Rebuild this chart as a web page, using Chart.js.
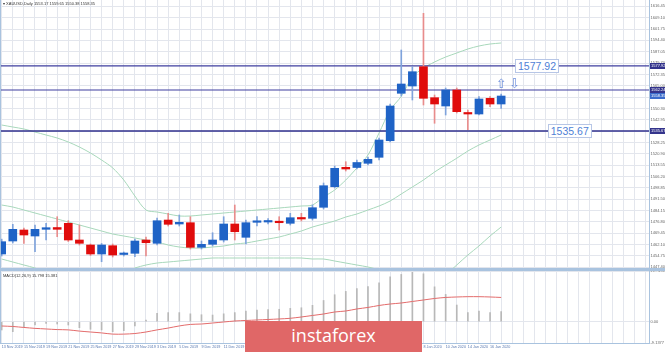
<!DOCTYPE html>
<html><head><meta charset="utf-8">
<script src="https://cdn.jsdelivr.net/npm/chart.js@4.4.1/dist/chart.umd.min.js"></script>
<style>
html,body{margin:0;padding:0;background:#fff;}
body{width:665px;height:352px;position:relative;overflow:hidden;font-family:"Liberation Sans",Arial,sans-serif;}
canvas{position:absolute;left:0;}
#main{top:0;}
#sub{top:271px;}
.band{position:absolute;background:#a9c3df;}
.lvl{position:absolute;background:#fff;border:1px solid #b7c6e6;color:#4f7fd6;font-size:10.5px;line-height:12px;padding:0 2px;white-space:nowrap;}
.arrow{position:absolute;color:#6f90dc;font-family:"DejaVu Sans";font-size:13px;line-height:13px;transform:translate(-50%,-50%);}
.tiny{position:absolute;font-size:4px;line-height:5px;color:#333;white-space:nowrap;}
#logo{position:absolute;left:245px;top:321px;width:177px;height:31px;background:#e06767;color:#fff;font-family:"Open Sans",sans-serif;font-size:18px;line-height:24px;padding-top:2px;box-sizing:border-box;text-align:center;}
</style></head><body>
<canvas id="main" width="665" height="268"></canvas>
<canvas id="sub" width="665" height="81"></canvas>
<div class="band" style="left:0;top:268px;width:665px;height:3px"></div>
<div class="band" style="left:0;top:0;width:1px;height:343px"></div>
<div id="title" class="tiny" style="left:3px;top:1px">▾ XAUUSD,Daily  1553.17 1559.65 1550.38 1558.35</div>
<div id="macdlbl" class="tiny" style="left:3px;top:273px">MACD(12,26,9) 15.798 15.381</div>
<div id="logo">instaforex</div>
<script>
// ---------------- data ----------------
const dates = ["13 Nov 2019","14 Nov 2019","15 Nov 2019","18 Nov 2019","19 Nov 2019","20 Nov 2019","21 Nov 2019","22 Nov 2019","25 Nov 2019","26 Nov 2019","27 Nov 2019","28 Nov 2019","29 Nov 2019","2 Dec 2019","3 Dec 2019","4 Dec 2019","5 Dec 2019","6 Dec 2019","9 Dec 2019","10 Dec 2019","11 Dec 2019","12 Dec 2019","13 Dec 2019","16 Dec 2019","17 Dec 2019","18 Dec 2019","19 Dec 2019","20 Dec 2019","23 Dec 2019","24 Dec 2019","26 Dec 2019","27 Dec 2019","30 Dec 2019","31 Dec 2019","2 Jan 2020","3 Jan 2020","6 Jan 2020","7 Jan 2020","8 Jan 2020","9 Jan 2020","10 Jan 2020","13 Jan 2020","14 Jan 2020","15 Jan 2020","16 Jan 2020","17 Jan 2020"];
const open  = [1455.97,1464.39,1471.52,1467.63,1471.97,1473.12,1475.86,1465.04,1461.80,1455.97,1461.35,1455.65,1456.42,1465.04,1462.90,1477.99,1475.41,1476.25,1460.31,1462.25,1465.04,1475.41,1466.79,1476.51,1476.70,1476.90,1475.86,1479.49,1479.10,1486.23,1499.58,1512.15,1512.02,1514.74,1518.63,1529.38,1560.10,1564.83,1577.34,1557.25,1551.87,1562.24,1547.53,1546.69,1556.86,1553.17];
const high  = [1465.60,1475.21,1472.80,1474.76,1475.86,1480.14,1477.54,1474.76,1462.45,1462.77,1462.45,1457.26,1465.69,1466.98,1479.30,1482.34,1481.24,1480.14,1464.39,1469.77,1480.14,1487.72,1477.99,1480.14,1478.97,1480.14,1482.34,1482.34,1487.72,1501.97,1512.99,1515.78,1516.88,1518.82,1531.13,1553.17,1588.16,1577.34,1611.94,1558.99,1563.53,1563.53,1549.28,1557.90,1557.90,1559.65];
const low   = [1454.67,1463.10,1462.90,1457.46,1465.04,1467.18,1464.07,1461.80,1455.00,1450.98,1454.02,1454.67,1454.22,1454.67,1461.80,1474.11,1474.11,1459.21,1459.21,1461.15,1463.74,1465.04,1462.45,1474.11,1475.41,1471.52,1474.76,1477.35,1477.99,1485.13,1498.74,1509.75,1511.05,1513.64,1516.88,1528.54,1558.35,1555.76,1552.52,1540.68,1546.04,1547.33,1536.57,1546.04,1551.42,1550.38];
const close = [1463.94,1471.97,1468.28,1471.97,1473.01,1471.97,1465.04,1462.90,1455.97,1461.80,1455.32,1456.29,1464.39,1463.29,1477.54,1475.21,1476.51,1460.31,1462.25,1465.04,1475.41,1470.42,1476.25,1477.35,1477.35,1476.25,1479.49,1478.65,1485.97,1500.22,1511.50,1511.05,1515.26,1517.33,1529.84,1551.87,1566.13,1574.10,1556.86,1553.17,1562.24,1548.18,1546.69,1556.41,1553.17,1558.35];
const bbUpper  = [1539.56,1538.26,1536.97,1535.02,1533.08,1531.13,1528.54,1525.30,1521.42,1516.88,1511.74,1503.92,1493.55,1484.48,1483.18,1481.89,1480.59,1480.59,1481.24,1481.89,1482.53,1483.18,1483.83,1484.48,1485.13,1485.77,1486.42,1487.07,1487.72,1492.90,1497.44,1503.92,1511.70,1520.12,1534.37,1549.28,1558.12,1570.66,1576.49,1580.38,1583.62,1586.21,1588.81,1590.75,1592.04,1592.69];
const bbMiddle = [1487.72,1486.42,1484.48,1482.53,1480.59,1478.65,1476.70,1474.76,1472.81,1470.87,1468.93,1467.63,1466.33,1465.04,1463.74,1461.80,1460.50,1459.86,1459.86,1460.50,1461.15,1462.45,1463.10,1464.39,1465.69,1466.98,1468.93,1470.87,1473.46,1475.41,1477.35,1479.94,1481.89,1484.48,1487.07,1490.31,1494.85,1499.38,1503.92,1509.10,1513.64,1518.02,1522.71,1526.60,1529.84,1533.08];
const bbLower  = [1452.73,1450.78,1448.84,1446.90,1444.30,1442.36,1441.06,1440.41,1440.41,1441.06,1442.36,1444.30,1446.90,1448.84,1450.13,1450.78,1451.43,1452.08,1452.73,1453.37,1453.37,1453.37,1453.37,1453.37,1453.37,1453.37,1453.37,1453.37,1452.73,1452.73,1451.43,1450.13,1448.84,1447.54,1445.60,1442.36,1438.47,1435.23,1433.94,1435.88,1442.36,1448.84,1455.32,1461.15,1467.63,1473.46];
const macdMain   = [-3.56,-4.29,-2.15,-1.42,-0.69,-0.99,-1.42,-2.57,-3.26,-3.56,-4.29,-3.86,-1.85,0.65,3.64,3.90,3.90,3.38,2.99,2.86,3.38,3.90,4.55,4.94,5.20,5.33,5.72,5.98,7.02,9.10,11.57,13.00,14.17,15.08,16.64,19.24,20.28,21.19,20.54,14.95,11.70,7.15,3.90,4.55,3.90,4.29];
const macdSignal = [-1.85,-2.05,-2.47,-2.86,-3.12,-3.38,-3.51,-4.03,-4.42,-4.81,-5.33,-5.33,-5.07,-4.42,-3.51,-2.73,-1.82,-1.17,-0.99,-0.56,-0.13,0.30,0.52,0.73,0.95,1.17,1.46,2.02,2.67,3.30,4.16,4.59,5.46,6.11,6.96,7.59,8.02,8.67,9.31,9.96,10.40,10.60,10.73,10.73,10.60,10.40];
const priceTicks = [1447.40,1454.75,1462.10,1469.45,1476.80,1484.15,1491.50,1498.85,1506.20,1513.55,1520.90,1528.25,1535.60,1542.95,1550.30,1557.65,1565.00,1572.35,1579.70,1587.05,1594.40,1601.75,1609.10,1616.45];
const macdTicks = [-9.1377, 0, 21.7451];
const resistanceLevel = 1577.92;
const pivotLevel = 1562.24;
const supportLevel = 1535.67;
const bidPrice = 1558.35;

// ---------------- config ----------------
const X_MIN = -0.153, X_MAX = 58.32;
const Y_MIN = 1446.90, Y_MAX = 1620.56;
const gridColor = '#e3e6ed';
const axisColor = '#a9c3df';
const bbColor = '#a8d8bb';
const lineColor = '#3f3f9f';
const N = close.length;
const idx = [...Array(N).keys()];
const isUp = idx.map(i => close[i] >= open[i]);
Chart.defaults.font.family = '"Liberation Sans", Arial, sans-serif';

const hline = v => [{x: X_MIN, y: v}, {x: X_MAX, y: v}];
const intTicks = s => { const t = []; for (let i = 0; i <= Math.floor(X_MAX); i++) t.push({value: i}); s.ticks = t; };

const axisBoxes = {
  id: 'axisBoxes',
  afterDraw(c) {
    const y = c.scales.y, ctx = c.ctx, r = c.chartArea.right;
    ctx.save();
    [[resistanceLevel, '#34348c'], [pivotLevel, '#34348c'], [bidPrice, '#3b6ccc'], [supportLevel, '#34348c']].forEach(([v, col]) => {
      const py = y.getPixelForValue(v);
      ctx.fillStyle = col;
      ctx.fillRect(r + 1, Math.round(py) - 3, 16, 6);
      ctx.fillStyle = '#fff';
      ctx.font = '4px "Liberation Sans"';
      ctx.textBaseline = 'middle';
      ctx.textAlign = 'left';
      ctx.fillText(v.toFixed(2), r + 2, py);
    });
    ctx.restore();
  }
};

const main = new Chart(document.getElementById('main'), {
  type: 'bar',
  data: { datasets: [
    {type:'line', data: idx.map(i => ({x:i, y:bbUpper[i]})), borderColor: bbColor, borderWidth: 1, pointRadius: 0, tension: 0.3, order: 6},
    {type:'line', data: idx.map(i => ({x:i, y:bbMiddle[i]})), borderColor: bbColor, borderWidth: 1, pointRadius: 0, tension: 0.3, order: 6},
    {type:'line', data: idx.map(i => ({x:i, y:bbLower[i]})), borderColor: bbColor, borderWidth: 1, pointRadius: 0, tension: 0.3, order: 6},
    {type:'line', data: hline(resistanceLevel), borderColor: lineColor, borderWidth: 1.2, pointRadius: 0, order: 5},
    {type:'line', data: hline(pivotLevel), borderColor: lineColor, borderWidth: 1.2, pointRadius: 0, order: 5},
    {type:'line', data: hline(supportLevel), borderColor: '#2f2f8c', borderWidth: 1.3, pointRadius: 0, order: 5},
    {type:'bar', data: idx.map(i => ({x:i, y:[low[i], high[i]]})), backgroundColor: idx.map(i => isUp[i] ? '#7fa3dc' : '#e88c8c'), barThickness: 1, grouped: false, order: 2},
    {type:'bar', data: idx.map(i => ({x:i, y:[open[i], close[i]]})), backgroundColor: idx.map(i => isUp[i] ? '#1f63c6' : '#e00c0c'), barThickness: 8, grouped: false, minBarLength: 1.5, order: 1}
  ]},
  options: {
    responsive: false, animation: false, events: [],
    layout: {padding: 0},
    plugins: {legend: {display: false}, tooltip: {enabled: false}},
    scales: {
      x: {type: 'linear', min: X_MIN, max: X_MAX, offset: false,
          grid: {color: gridColor, offset: false, drawTicks: false},
          border: {display: false}, ticks: {display: false},
          afterBuildTicks: intTicks,
          afterFit: s => { s.height = 0; s.paddingLeft = 0; s.paddingRight = 0; }},
      y: {position: 'right', min: Y_MIN, max: Y_MAX,
          grid: {color: gridColor, drawTicks: false},
          border: {display: true, color: axisColor, width: 1},
          afterBuildTicks: s => { s.ticks = priceTicks.map(v => ({value: v})); },
          ticks: {font: {size: 4}, color: '#666', padding: 1.5, callback: v => Number(v).toFixed(2)},
          afterFit: s => { s.width = 16; s.paddingTop = 0; s.paddingBottom = 0; }}
    }
  },
  plugins: [axisBoxes]
});

const sub = new Chart(document.getElementById('sub'), {
  type: 'bar',
  data: { datasets: [
    {type:'line', data: idx.map(i => ({x:i, y:macdSignal[i]})), borderColor: '#e36b6b', borderWidth: 1, pointRadius: 0, tension: 0.3, order: 1},
    {type:'bar', data: idx.map(i => ({x:i, y:macdMain[i]})), backgroundColor: '#b8b8b8', barThickness: 1, grouped: false, order: 2}
  ]},
  options: {
    responsive: false, animation: false, events: [],
    layout: {padding: 0},
    plugins: {legend: {display: false}, tooltip: {enabled: false}},
    scales: {
      x: {type: 'linear', min: X_MIN, max: X_MAX, offset: false,
          grid: {color: gridColor, offset: false, drawTicks: false},
          border: {display: true, color: axisColor, width: 1},
          afterBuildTicks: intTicks,
          ticks: {autoSkip: false, maxRotation: 0, align: 'start', font: {size: 3.7}, color: '#5878b0', padding: 2,
                  callback: v => (v % 2 === 0 && v < dates.length) ? dates[v] : ''},
          afterFit: s => { s.height = 9; s.paddingLeft = 0; s.paddingRight = 0; }},
      y: {position: 'right', min: macdTicks[0], max: macdTicks[2],
          grid: {color: gridColor, drawTicks: false},
          border: {display: true, color: axisColor, width: 1},
          afterBuildTicks: s => { s.ticks = macdTicks.map(v => ({value: v})); },
          ticks: {font: {size: 4}, color: '#666', padding: 1.5, callback: v => v === 0 ? '0.00' : Number(v).toFixed(4)},
          afterFit: s => { s.width = 16; s.paddingTop = 0; s.paddingBottom = 0; }}
    }
  }
});

// ---------------- overlays positioned through the chart scales ----------------
const xs = main.scales.x, ys = main.scales.y;
function addDiv(cls, text, left, top) {
  const d = document.createElement('div');
  d.className = cls; d.textContent = text;
  d.style.left = left + 'px'; d.style.top = top + 'px';
  document.body.appendChild(d);
  return d;
}
addDiv('lvl', resistanceLevel.toFixed(2), xs.getPixelForValue(46.25), ys.getPixelForValue(resistanceLevel) - 7);
addDiv('lvl', supportLevel.toFixed(2), xs.getPixelForValue(49.2), ys.getPixelForValue(supportLevel) - 7);
addDiv('arrow', '⇧', xs.getPixelForValue(45), ys.getPixelForValue(1566.6));
addDiv('arrow', '⇩', xs.getPixelForValue(46.2), ys.getPixelForValue(1566.6));
</script>
</body></html>
